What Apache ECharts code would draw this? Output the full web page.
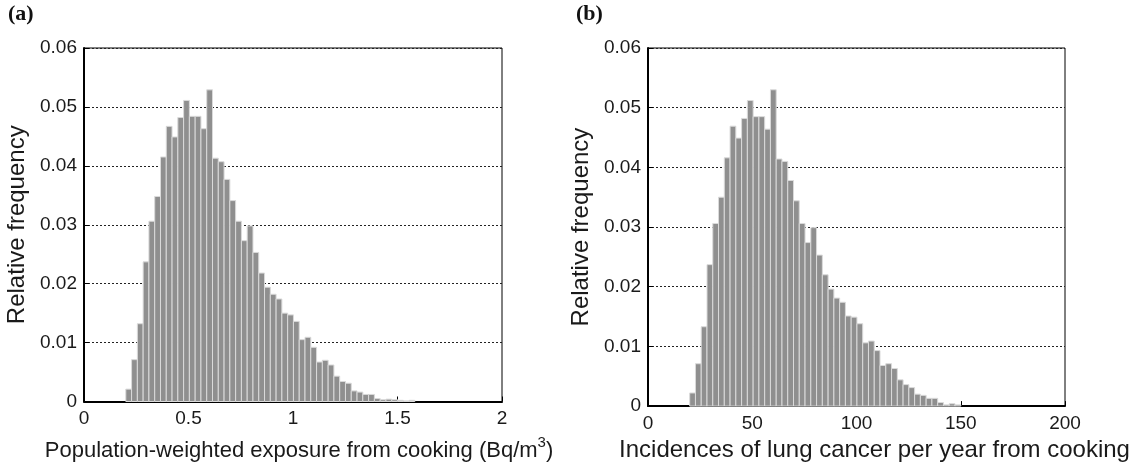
<!DOCTYPE html>
<html>
<head>
<meta charset="utf-8">
<script src="https://cdn.jsdelivr.net/npm/echarts@6/dist/echarts.min.js"></script>
<style>
  html, body { margin: 0; padding: 0; background: #fff; }
  #chart { width: 1133px; height: 467px; }
</style>
</head>
<body>
<div id="chart"></div>
<script>
// ---- Data ----
// Panel (a): histogram of population-weighted exposure (Bq/m3)
const binStartA = 0.2;
const binWidthA = 0.02766;
const freqA = [
  0.0021, 0.0071, 0.0132, 0.0237, 0.0306, 0.0348, 0.0415, 0.0467, 0.0449, 0.0482,
  0.0511, 0.0484, 0.0484, 0.0463, 0.0529, 0.0413, 0.0407, 0.0377, 0.0341, 0.0306,
  0.0273, 0.0298, 0.0253, 0.0218, 0.0194, 0.0182, 0.0174, 0.0150, 0.0147, 0.0136,
  0.0105, 0.0109, 0.0092, 0.0067, 0.0070, 0.0062, 0.0043, 0.0034, 0.0031, 0.0018,
  0.0016, 0.0012, 0.0012, 0.0005, 0.0003, 0.0004, 0.0003, 0.0002, 0.0001, 0.0002
];
// Panel (b): histogram of lung cancer incidences per year
const binStartB = 20;
const binWidthB = 2.766;
const freqB = [
  0.0022, 0.0071, 0.0133, 0.0237, 0.0306, 0.0350, 0.0416, 0.0469, 0.0449, 0.0482,
  0.0512, 0.0485, 0.0485, 0.0464, 0.0530, 0.0414, 0.0410, 0.0378, 0.0344, 0.0306,
  0.0274, 0.0299, 0.0253, 0.0220, 0.0196, 0.0181, 0.0174, 0.0151, 0.0149, 0.0138,
  0.0106, 0.0109, 0.0093, 0.0068, 0.0071, 0.0063, 0.0044, 0.0036, 0.0031, 0.0020,
  0.0018, 0.0013, 0.0013, 0.0006, 0.0002, 0.0004, 0.0002
];
const xTicksA = [0, 0.5, 1, 1.5, 2];
const xTicksB = [0, 50, 100, 150, 200];
const yTicks = [0, 0.01, 0.02, 0.03, 0.04, 0.05, 0.06];
const yLabel = 'Relative frequency';
const xLabelA = 'Population-weighted exposure from cooking (Bq/m';
const xLabelB = 'Incidences of lung cancer per year from cooking';

// ---- Build histogram rows [left edge, right edge, frequency] ----
function bins(start, width, freq) {
  return freq.map((f, i) => [start + i * width, start + (i + 1) * width, f]);
}

const FONT = '"Liberation Sans", Arial, sans-serif';
const TXT = '#1a1a1a';

function renderBar(params, api) {
  const p0 = api.coord([api.value(0), api.value(2)]);
  const p1 = api.coord([api.value(1), 0]);
  return {
    type: 'rect',
    shape: { x: p0[0], y: p0[1], width: p1[0] - p0[0], height: p1[1] - p0[1] },
    style: { fill: '#8f8f8f', stroke: '#dadada', lineWidth: 1 }
  };
}

function xAxis(gridIndex, ticks, name, gap, nameStyle) {
  return {
    type: 'value', gridIndex,
    min: ticks[0], max: ticks[ticks.length - 1], interval: ticks[1] - ticks[0],
    name, nameLocation: 'middle', nameGap: gap,
    nameTextStyle: nameStyle,
    axisLine: { show: true, onZero: false, lineStyle: { color: '#000', width: 2 } },
    axisTick: { show: true, inside: true, length: 5, lineStyle: { color: '#000' } },
    axisLabel: { fontFamily: FONT, fontSize: 19, color: TXT, margin: 8, formatter: v => String(v) },
    splitLine: { show: false }
  };
}

function yAxis(gridIndex) {
  return {
    type: 'value', gridIndex,
    min: yTicks[0], max: yTicks[yTicks.length - 1], interval: 0.01,
    name: yLabel, nameLocation: 'middle', nameGap: 55,
    nameTextStyle: { fontFamily: FONT, fontSize: 24, color: TXT },
    axisLine: { show: true, onZero: false, lineStyle: { color: '#000', width: 2 } },
    axisTick: { show: true, inside: true, length: 5, lineStyle: { color: '#000' } },
    axisLabel: { fontFamily: FONT, fontSize: 19, color: TXT, margin: 7,
      formatter: v => (v === 0 ? '0' : v.toFixed(2)) },
    splitLine: { show: true, lineStyle: { color: '#222', type: [2, 2], width: 1 } }
  };
}

const chart = echarts.init(document.getElementById('chart'), null, { renderer: 'canvas' });
chart.setOption({
  animation: false,
  backgroundColor: '#fff',
  grid: [
    { left: 84, top: 48, width: 418, height: 356, show: true, borderColor: '#000', borderWidth: 1, backgroundColor: 'transparent' },
    { left: 648, top: 48, width: 417, height: 362, show: true, borderColor: '#000', borderWidth: 1, backgroundColor: 'transparent' }
  ],
  xAxis: [
    xAxis(0, xTicksA, '{t|' + xLabelA + '}{s|3}{t|)}', 34, {
      fontFamily: FONT, fontSize: 22, color: TXT, padding: [0, 0, 0, 12],
      rich: {
        t: { fontFamily: FONT, fontSize: 22, color: TXT },
        s: { fontFamily: FONT, fontSize: 15, color: TXT, verticalAlign: 'top', padding: [0, 0, 16, 0] }
      }
    }),
    xAxis(1, xTicksB, xLabelB, 29, { fontFamily: FONT, fontSize: 24, color: TXT, padding: [0, 0, 0, 36] })
  ],
  yAxis: [yAxis(0), yAxis(1)],
  graphic: [
    { type: 'text', left: 8, top: 3, style: { text: '(a)', font: 'bold 22px "Liberation Serif", "Times New Roman", serif', fill: '#111' } },
    { type: 'text', left: 576, top: 3, style: { text: '(b)', font: 'bold 22px "Liberation Serif", "Times New Roman", serif', fill: '#111' } }
  ],
  series: [
    { type: 'custom', xAxisIndex: 0, yAxisIndex: 0, renderItem: renderBar,
      encode: { x: [0, 1], y: 2 }, data: bins(binStartA, binWidthA, freqA), z: 3 },
    { type: 'custom', xAxisIndex: 1, yAxisIndex: 1, renderItem: renderBar,
      encode: { x: [0, 1], y: 2 }, data: bins(binStartB, binWidthB, freqB), z: 3 }
  ]
});
</script>
</body>
</html>
